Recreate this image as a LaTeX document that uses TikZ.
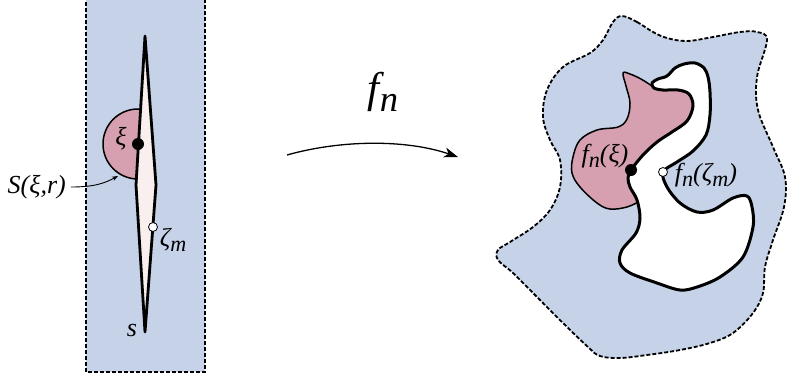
\documentclass[tikz,border=0pt]{standalone}
\usepackage{fontspec}
\setmainfont{Liberation Serif}
\newfontfamily\labfont{Liberation Serif Italic}
\usetikzlibrary{arrows.meta}
\definecolor{bluefill}{RGB}{197,210,232}
\definecolor{pinkfill}{RGB}{214,160,176}
\definecolor{lensfill}{RGB}{249,239,239}
\newcommand{\lsub}[1]{\raisebox{-0.2em}{\scalebox{0.85}{#1}}}
\begin{document}
\begin{tikzpicture}[x=1pt,y=-1pt,
  font=\labfont\fontsize{26}{30}\selectfont,
  dashline/.style={dash pattern=on 4pt off 2pt, line width=1.8pt},
  thickb/.style={line width=3pt, line join=round},
  thinb/.style={line width=1.5pt, line join=round},
  lbl/.style={inner sep=0pt},
  bdot/.style={circle, fill=black, inner sep=0pt, minimum size=12pt},
  wdot/.style={circle, draw=black, fill=white, line width=0.8pt, inner sep=0pt, minimum size=9pt}]
\useasboundingbox (0,0) rectangle (787,381);
% ---------- left panel ----------
\draw[dashline, fill=bluefill] (86,-10) rectangle (205,372);
\begin{scope}
  \clip (0,0) -- (147.2,0) -- (132.1,250) -- (0,250) -- cycle;
  \draw[thinb, fill=pinkfill] (138,144) circle (35pt);
\end{scope}
\draw[fill=lensfill, line width=2.8pt, line join=round] (145,36) -- (156,185) -- (145,332) -- (136,185) -- cycle;
\node[bdot] (xi) at (138,144) {};
\node[wdot] (zm) at (153,227) {};
\node[lbl] (xilab) at (121,139) {ξ};
\node[lbl] (zmlab) at (173,240) {ζ\lsub{m}};
\node[lbl] (slab) at (132,330) {s};
\node[lbl, anchor=east] (Slab) at (66,187) {S(ξ,r)};
\coordinate (sxr) at (118,176);
\draw[line width=0.9pt, -{Stealth[length=6pt,width=4.5pt]}] ([xshift=5pt]Slab.east) .. controls (95,187) and (105,183) .. (sxr);
% ---------- arrow ----------
\coordinate (a1) at (287,155);
\coordinate (a2) at (458,157);
\draw[line width=1.3pt, -{Stealth[length=14pt,width=10pt,inset=4pt]}] (a1) .. controls (340,140) and (405,139) .. (a2);
\node[lbl, font=\labfont\fontsize{43}{48}\selectfont] (fn) at (383,92) {f\lsub{n}};
% ---------- right panel ----------
\draw[dashline, fill=bluefill] plot[smooth cycle, tension=0.6] coordinates {
  (622,16) (637,22) (653,32) (667,38) (687,41) (713,37) (740,32) (757,32) (767,40)
  (757,77) (758,110) (773,147) (785,177) (784,207) (773,240) (765,267) (763,293)
  (753,313) (733,333) (710,343) (680,350) (647,355) (620,358) (600,356) (588,347)
  (563,323) (537,297) (513,273) (498,260) (498,250) (510,242) (533,227) (550,210)
  (560,187) (560,160) (550,140) (543,117) (547,90) (563,67) (590,53) (603,40) (613,22)};
% pink region
\fill[pinkfill] plot[smooth, tension=0.6] coordinates {
  (652,86) (641,79) (630,74) (623,73) (626,86) (630,103) (627,119) (618,127)
  (597,130) (580,140) (573,157) (572,173) (580,187) (597,203) (610,209) (627,207) (640,201)}
  -- (652,190) -- (675,140) -- (700,100) -- (680,77) -- (660,82) -- cycle;
\draw[thinb] plot[smooth, tension=0.6] coordinates {
  (652,86) (641,79) (630,74) (623,73) (626,86) (630,103) (627,119) (618,127)
  (597,130) (580,140) (573,157) (572,173) (580,187) (597,203) (610,209) (627,207) (640,201)};
% white region
\draw[thickb, fill=white] plot[smooth cycle, tension=0.55] coordinates {
  (631,170) (643,155) (657,142) (672,132) (687,121) (693,106) (689,94) (678,90)
  (663,90) (654,88) (652,83) (658,79) (667,76) (675,68) (684,64) (695,63) (704,68)
  (708,77) (710,92) (710,115) (706,135) (693,151) (677,162) (663,172) (667,187)
  (680,203) (697,212) (713,210) (733,198) (747,196) (752,207) (753,227) (743,257)
  (720,277) (697,287) (680,290) (657,283) (630,273) (620,263) (622,250) (636,233)
  (640,218) (637,200) (630,187) (628,178)};
\node[bdot] (fxi) at (631,170) {};
\node[wdot] (fzm) at (663,172) {};
\node[lbl] (fxilab) at (605,156) {f\lsub{n}(ξ)};
\node[lbl] (fzmlab) at (706,175) {f\lsub{n}(ζ\lsub{m})};
\end{tikzpicture}
\end{document}
